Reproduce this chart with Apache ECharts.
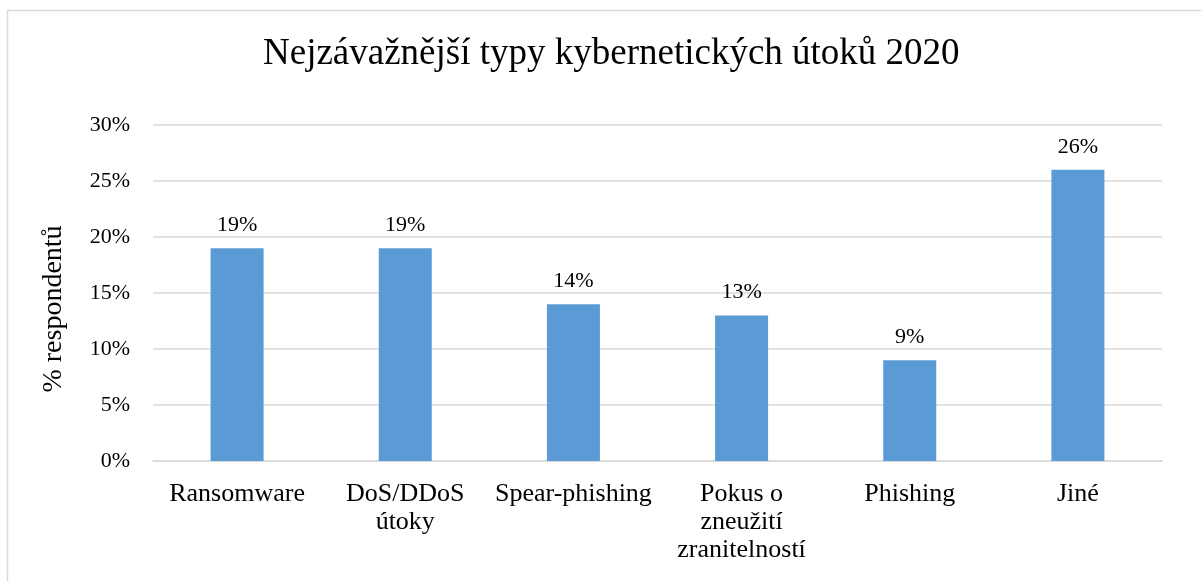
<!DOCTYPE html>
<html><head><meta charset="utf-8">
<script src="https://cdn.jsdelivr.net/npm/echarts@6/dist/echarts.min.js"></script>
<style>html,body{margin:0;padding:0;background:#fff}#c{width:1201px;height:581px}</style>
</head><body><div id="c"></div>
<script>
const categories = ['Ransomware', 'DoS/DDoS\nútoky', 'Spear-phishing', 'Pokus o\nzneužití\nzranitelností', 'Phishing', 'Jiné'];
const values = [19, 19, 14, 13, 9, 26];
const titleText = 'Nejzávažnější typy kybernetických útoků 2020';
const yAxisName = '% respondentů';
const serif = '"Liberation Serif", "Times New Roman", serif';
const chart = echarts.init(document.getElementById('c'));
chart.setOption({
  animation: false,
  graphic: [{type:'rect', shape:{x:7.5,y:10.5,width:1200,height:600}, style:{fill:'none', stroke:'#d9d9d9', lineWidth:1.5}, silent:true}],
  title: {text: titleText, left: 258, top: 31, textStyle:{fontFamily: serif, fontSize: 37, fontWeight:'normal', color:'#000'}},
  grid: {left: 153, right: 39, top: 125, bottom: 120},
  xAxis: {type:'category', data: categories,
    axisLine:{lineStyle:{color:'#d9d9d9', width:1.5}}, axisTick:{show:false},
    axisLabel:{fontFamily: serif, fontSize: 26, color:'#000', lineHeight: 28, margin: 19, interval: 0}},
  yAxis: {type:'value', min:0, max:30, interval:5,
    name: yAxisName, nameLocation:'middle', nameGap: 85, nameRotate: 90,
    nameTextStyle:{fontFamily: serif, fontSize: 28, color:'#000', padding:[0,32,0,0]},
    axisLabel:{formatter:'{value}%', fontFamily: serif, fontSize: 22, color:'#000', margin: 23},
    axisLine:{show:false}, axisTick:{show:false},
    splitLine:{lineStyle:{color:'#d9d9d9', width:1.5}}},
  series: [{type:'bar', data: values, barWidth: 53, itemStyle:{color:'#5b9bd5'},
    label:{show:true, position:'top', distance: 12, formatter:'{c}%', fontFamily: serif, fontSize: 22, color:'#000'}}]
});
</script></body></html>
